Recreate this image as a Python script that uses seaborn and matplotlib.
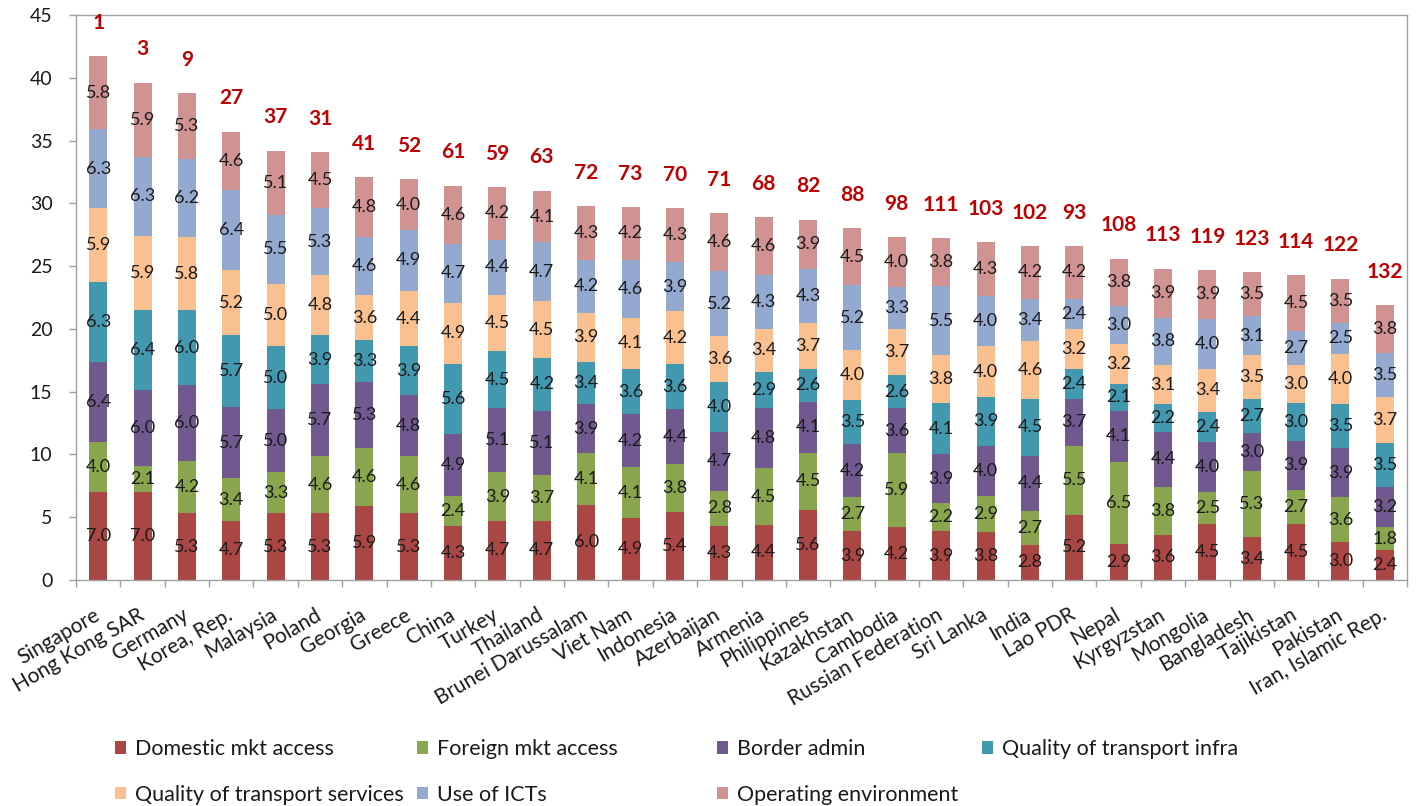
import numpy as np
import matplotlib
matplotlib.use('Agg')
import matplotlib.pyplot as plt
from matplotlib.patches import Patch
import seaborn as sns

## LPI-style pillar scores, stacked per economy, with overall rank on top

countries = ['Singapore', 'Hong Kong SAR', 'Germany', 'Korea, Rep.', 'Malaysia', 'Poland',
             'Georgia', 'Greece', 'China', 'Turkey', 'Thailand', 'Brunei Darussalam',
             'Viet Nam', 'Indonesia', 'Azerbaijan', 'Armenia', 'Philippines', 'Kazakhstan',
             'Cambodia', 'Russian Federation', 'Sri Lanka', 'India', 'Lao PDR', 'Nepal',
             'Kyrgyzstan', 'Mongolia', 'Bangladesh', 'Tajikistan', 'Pakistan',
             'Iran, Islamic Rep.']
ranks = [1, 3, 9, 27, 37, 31, 41, 52, 61, 59, 63, 72, 73, 70, 71, 68, 82, 88, 98, 111,
         103, 102, 93, 108, 113, 119, 123, 114, 122, 132]

domestic = [7.0, 7.0, 5.3, 4.7, 5.3, 5.3, 5.9, 5.3, 4.3, 4.7, 4.7, 6.0, 4.9, 5.4, 4.3,
            4.4, 5.6, 3.9, 4.2, 3.9, 3.8, 2.8, 5.2, 2.9, 3.6, 4.5, 3.4, 4.5, 3.0, 2.4]
foreign = [4.0, 2.1, 4.2, 3.4, 3.3, 4.6, 4.6, 4.6, 2.4, 3.9, 3.7, 4.1, 4.1, 3.8, 2.8,
           4.5, 4.5, 2.7, 5.9, 2.2, 2.9, 2.7, 5.5, 6.5, 3.8, 2.5, 5.3, 2.7, 3.6, 1.8]
border = [6.4, 6.0, 6.0, 5.7, 5.0, 5.7, 5.3, 4.8, 4.9, 5.1, 5.1, 3.9, 4.2, 4.4, 4.7,
          4.8, 4.1, 4.2, 3.6, 3.9, 4.0, 4.4, 3.7, 4.1, 4.4, 4.0, 3.0, 3.9, 3.9, 3.2]
infra = [6.3, 6.4, 6.0, 5.7, 5.0, 3.9, 3.3, 3.9, 5.6, 4.5, 4.2, 3.4, 3.6, 3.6, 4.0,
         2.9, 2.6, 3.5, 2.6, 4.1, 3.9, 4.5, 2.4, 2.1, 2.2, 2.4, 2.7, 3.0, 3.5, 3.5]
services = [5.9, 5.9, 5.8, 5.2, 5.0, 4.8, 3.6, 4.4, 4.9, 4.5, 4.5, 3.9, 4.1, 4.2, 3.6,
            3.4, 3.7, 4.0, 3.7, 3.8, 4.0, 4.6, 3.2, 3.2, 3.1, 3.4, 3.5, 3.0, 4.0, 3.7]
ict = [6.3, 6.3, 6.2, 6.4, 5.5, 5.3, 4.6, 4.9, 4.7, 4.4, 4.7, 4.2, 4.6, 3.9, 5.2,
       4.3, 4.3, 5.2, 3.3, 5.5, 4.0, 3.4, 2.4, 3.0, 3.8, 4.0, 3.1, 2.7, 2.5, 3.5]
operating = [5.8, 5.9, 5.3, 4.6, 5.1, 4.5, 4.8, 4.0, 4.6, 4.2, 4.1, 4.3, 4.2, 4.3, 4.6,
             4.6, 3.9, 4.5, 4.0, 3.8, 4.3, 4.2, 4.2, 3.8, 3.9, 3.9, 3.5, 4.5, 3.5, 3.8]

pillars = ['Domestic mkt access', 'Foreign mkt access', 'Border admin',
           'Quality of transport infra', 'Quality of transport services',
           'Use of ICTs', 'Operating environment']
colors = ['#AA4643', '#89A54E', '#71588F', '#4198AF', '#FAC090', '#93A9CF', '#D19392']

sns.set_style('white')
plt.rcParams['font.family'] = ['Lato', 'DejaVu Sans']

values = np.array([domestic, foreign, border, infra, services, ict, operating])
cum = values.cumsum(axis=0)
n = len(countries)

fig = plt.figure(figsize=(14.16, 8.06), dpi=100)
ax = fig.add_axes([76 / 1416, 1 - 580 / 806, 1331 / 1416, 565 / 806])

# overlay cumulative bars, tallest first, so each pillar shows as a segment
for k in range(len(pillars) - 1, -1, -1):
    sns.barplot(x=countries, y=cum[k], order=countries, color=colors[k], width=0.405,
                saturation=1, linewidth=0, errorbar=None, ax=ax)

for k in range(len(pillars)):
    base = cum[k] - values[k]
    for j in range(n):
        ax.text(j, base[j] + values[k][j] / 2, f'{values[k][j]:.1f}', ha='center',
                va='center', fontsize=13, color='#1a1a1a')

for j in range(n):
    ax.annotate(str(ranks[j]), (j, cum[-1][j]), xytext=(0, 24), textcoords='offset points',
                ha='center', va='center', fontsize=15, fontweight='bold', color='#C00000')

ax.set_xlim(-0.5, n - 0.5)
ax.set_ylim(0, 45)
ax.set_yticks(range(0, 46, 5))
ax.set_xlabel('')
ax.set_ylabel('')

ax.set_xticks(np.arange(n))
ax.set_xticklabels(countries, rotation=30, ha='right', va='center', rotation_mode='anchor',
                   fontsize=15, color='#1a1a1a')
ax.set_xticks(np.arange(-0.5, n, 1), minor=True)
ax.tick_params(axis='x', which='major', bottom=True, length=0, pad=24)
ax.tick_params(axis='x', which='minor', bottom=True, length=5, width=1, color='#A0A0A0')
ax.tick_params(axis='y', left=True, length=5, width=1, color='#A0A0A0', pad=12,
               labelsize=14, labelcolor='#1a1a1a')

for side in ['left', 'bottom', 'top', 'right']:
    ax.spines[side].set_visible(True)
    ax.spines[side].set_color('#A0A0A0')
    ax.spines[side].set_linewidth(1)

# legend laid out like the original: four columns, two rows
handles = [Patch(facecolor=c, edgecolor='none') for c in colors]
columns = [[0, 4], [1, 5], [2, 6], [3]]
col_x = [115, 417, 717, 982]
for idx, x0 in zip(columns, col_x):
    fig.legend([handles[i] for i in idx], [pillars[i] for i in idx], loc='upper left',
               bbox_to_anchor=(x0 / 1416, 1 - 739 / 806), frameon=False, borderpad=0,
               borderaxespad=0, fontsize=15.5, handlelength=0.52, handleheight=0.52,
               handletextpad=0.42, labelspacing=1.2, labelcolor='#1a1a1a')

fig.savefig('out.png', dpi=100)
